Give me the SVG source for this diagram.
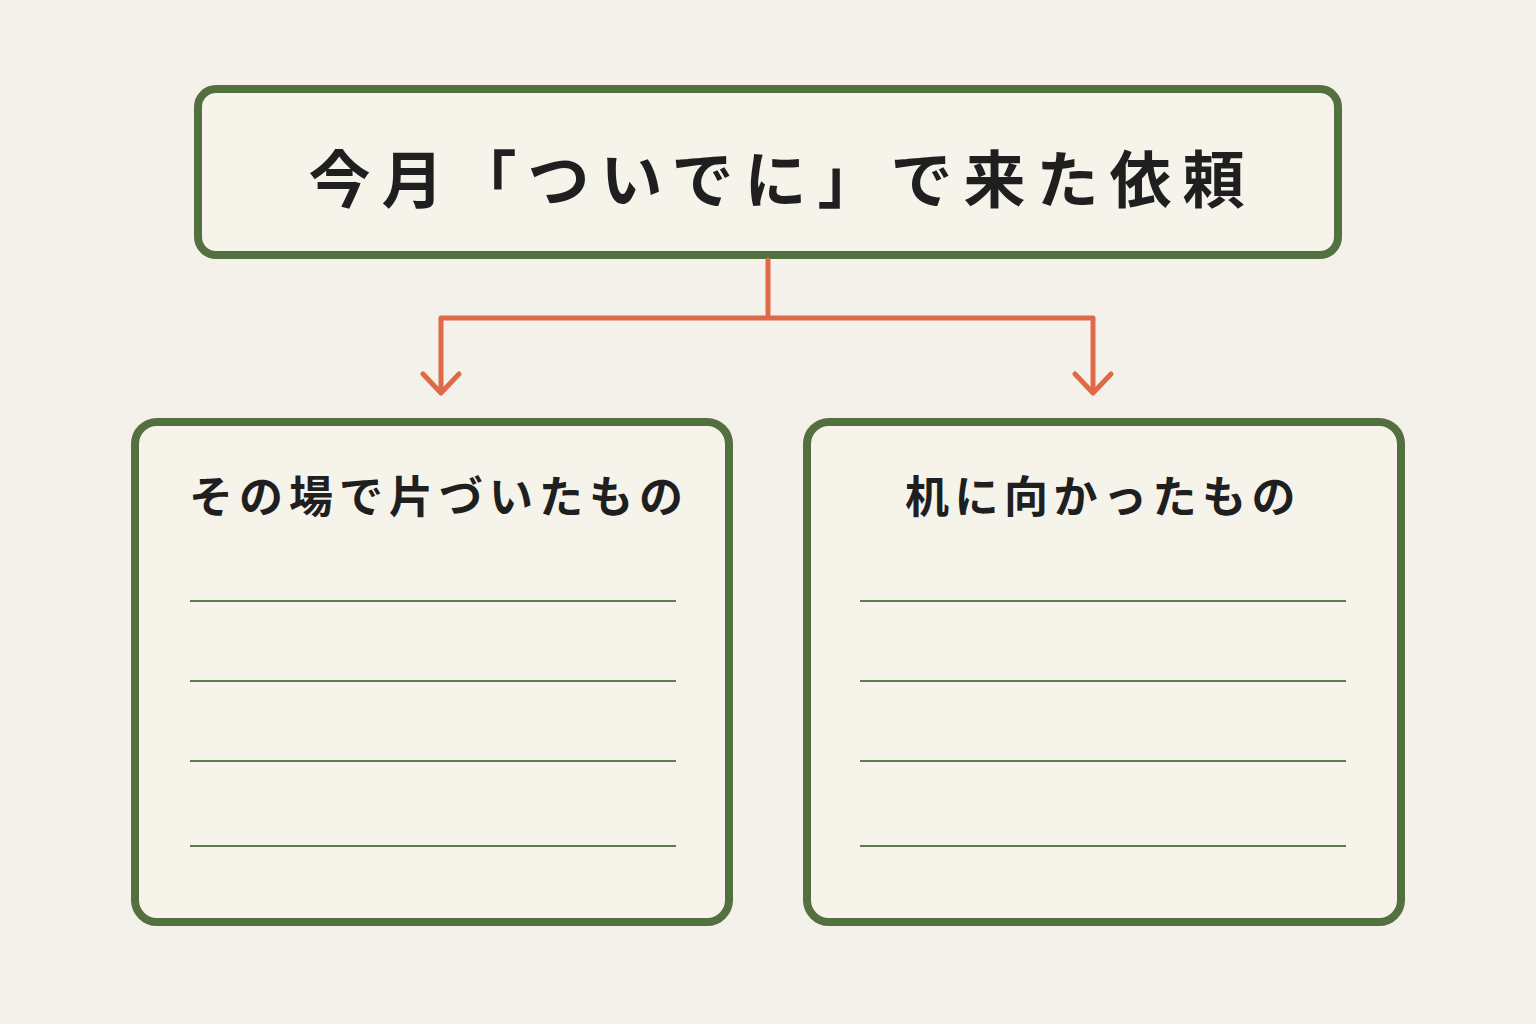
<svg xmlns="http://www.w3.org/2000/svg" width="1536" height="1024" viewBox="0 0 1536 1024">
<style>
.box{fill:#f6f3ea;stroke:#52713f;stroke-width:8}
.ln{stroke:#5e7d4c;stroke-width:2}
.t{font-family:"Noto Sans CJK JP","Noto Sans CJK SC",sans-serif;font-weight:bold;fill:#1f1f1f;text-anchor:middle}
.c{fill:none;stroke:#df6a48;stroke-width:5;stroke-linecap:round;stroke-linejoin:round}
</style>
<rect width="1536" height="1024" fill="#f4f1ea"/>
<g id="top"><rect class="box" x="198" y="89" width="1140" height="166" rx="18"/>
<text class="t" x="782" y="203" font-size="62" letter-spacing="11">今月「ついでに」で来た依頼</text></g>
<g id="connectors">
<path class="c" d="M768 260V318M441 318H1093M441 318V392M1093 318V392"/>
<path class="c" d="M423 374L441 393L459 374M1075 374L1093 393L1111 374"/>
</g>
<g id="left"><rect class="box" x="135" y="422" width="594" height="500" rx="22"/>
<text class="t" x="439" y="513" font-size="44" letter-spacing="6">その場で片づいたもの</text>
<path class="ln" d="M190 601H676M190 681H676M190 761H676M190 846H676"/></g>
<g id="right"><rect class="box" x="807" y="422" width="594" height="500" rx="22"/>
<text class="t" x="1103" y="513" font-size="44" letter-spacing="5.5">机に向かったもの</text>
<path class="ln" d="M860 601H1346M860 681H1346M860 761H1346M860 846H1346"/></g>
</svg>
